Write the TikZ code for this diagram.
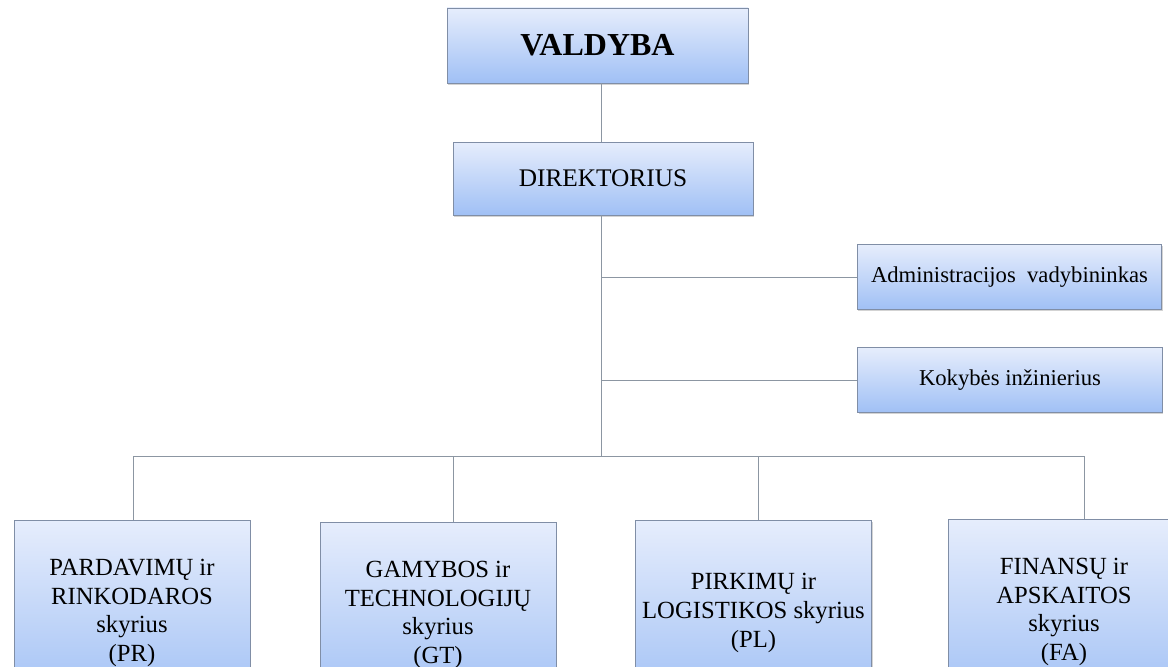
\documentclass[tikz,border=0pt]{standalone}
\usepackage{fontspec}
\IfFontExistsTF{LiberationSerif-Regular.ttf}{%
  \newfontfamily\orgfont{LiberationSerif}[Extension=.ttf, UprightFont=*-Regular, BoldFont=*-Bold]}{%
  \newfontfamily\orgfont{Latin Modern Roman}}
\usetikzlibrary{shadows}
\definecolor{boxtop}{RGB}{230,237,252}
\definecolor{boxbot}{RGB}{160,192,245}
\definecolor{boxline}{RGB}{128,142,166}
\definecolor{wire}{RGB}{140,150,162}

\tikzset{
  orgbox/.style={draw=boxline, line width=0.6pt, rectangle, top color=boxtop, bottom color=boxbot,
    drop shadow={shadow xshift=0.8pt, shadow yshift=-1.2pt, opacity=0.35}, align=center, inner sep=2pt},
  sidebox/.style={orgbox, minimum width=228.5pt, minimum height=48.75pt, font=\orgfont\fontsize{17}{20}\selectfont},
  deptbox/.style={orgbox, minimum width=177pt, minimum height=139.5pt, font=\orgfont\fontsize{18.5}{21.5}\selectfont},
  wireline/.style={draw=wire, line width=0.7pt}
}

\begin{document}
\begin{tikzpicture}[x=0.75pt, y=-0.75pt]
\useasboundingbox (0,0) rectangle (1168,667);
\clip (0,0) rectangle (1168,667);

% top of the chart
\node[orgbox, minimum width=225.75pt, minimum height=56.25pt, font=\orgfont\fontsize{24}{28}\selectfont\bfseries] (valdyba) at (597.5,45.5) {VALDYBA};
\node[orgbox, minimum width=225pt, minimum height=54.75pt, font=\orgfont\fontsize{19}{22}\selectfont] (direktorius) at (603,178.5) {DIREKTORIUS};

% side staff
\node[sidebox] (admin) at (1009.5,277) {Administracijos\ \ vadybininkas};
\node[sidebox] (kokybe) at (1010,380) {Kokybės inžinierius};

% departments
\node[deptbox] (pr) at (132,613) {PARDAVIMŲ ir\\RINKODAROS\\skyrius\\(PR)};
\node[deptbox] (gt) at (438,615) {GAMYBOS ir\\TECHNOLOGIJŲ\\skyrius\\(GT)};
\node[deptbox] (pl) at (753.5,613) {PIRKIMŲ ir\\LOGISTIKOS skyrius\\(PL)};
\node[deptbox, minimum width=174pt] (fa) at (1064,612) {FINANSŲ ir\\APSKAITOS\\skyrius\\(FA)};

\coordinate (trunk) at (601,456);
\coordinate (jpr) at (133,456);
\coordinate (jgt) at (453,456);
\coordinate (jpl) at (758,456);
\coordinate (jfa) at (1084,456);

\draw[wireline] (valdyba.south -| trunk) -- (direktorius.north -| trunk);
\draw[wireline] (direktorius.south -| trunk) -- (trunk);
\draw[wireline] (admin.west -| trunk) -- (admin.west);
\draw[wireline] (kokybe.west -| trunk) -- (kokybe.west);
\draw[wireline] (jpr) -- (jfa);
\foreach \j/\d in {jpr/pr, jgt/gt, jpl/pl, jfa/fa}
  \draw[wireline] (\j) -- (\j |- \d.north);
\end{tikzpicture}
\end{document}
